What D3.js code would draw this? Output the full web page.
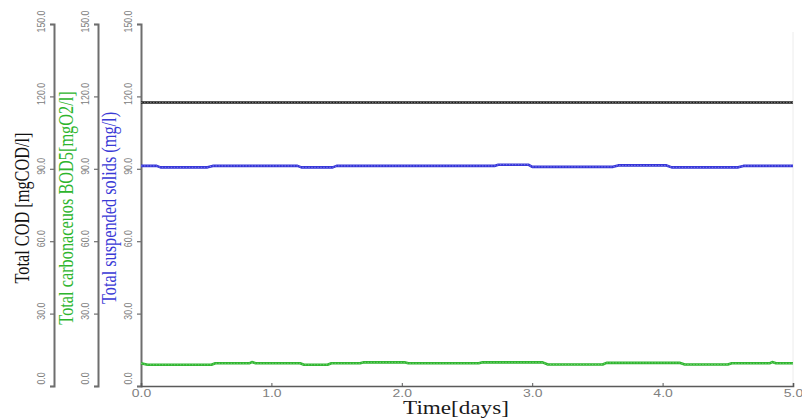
<!DOCTYPE html>
<html>
<head>
<meta charset="utf-8">
<script src="https://cdn.jsdelivr.net/npm/d3@7"></script>
<style>
  html, body { margin: 0; padding: 0; background: #fff; }
  svg { display: block; }
</style>
</head>
<body>
<svg id="chart" width="802" height="420"></svg>
<script>
// ---- data ----
const yTicks = [0, 30, 60, 90, 120, 150];
const xTicks = [0, 1, 2, 3, 4, 5];

const codTime  = [0, 5];
const codValue = [117.5, 117.5];

const tssTime  = [0, 0.12, 0.15, 0.51, 0.55, 1.20, 1.23, 1.47, 1.50, 2.71, 2.74, 2.97, 3.00, 3.62, 3.66, 4.03, 4.07, 4.58, 4.62, 5.00];
const tssValue = [91.2, 91.2, 90.6, 90.6, 91.2, 91.2, 90.6, 90.6, 91.2, 91.2, 91.7, 91.7, 90.8, 90.8, 91.4, 91.4, 90.6, 90.6, 91.2, 91.2];

const bodTime  = [0, 0.05, 0.54, 0.57, 0.83, 0.85, 0.88, 1.22, 1.25, 1.43, 1.46, 1.68, 1.71, 2.02, 2.05, 2.59, 2.62, 3.08, 3.12, 3.54, 3.57, 4.13, 4.17, 4.50, 4.53, 4.82, 4.84, 4.87, 5.00];
const bodValue = [9.4, 8.8, 8.8, 9.4, 9.4, 9.9, 9.4, 9.4, 8.8, 8.8, 9.4, 9.4, 9.8, 9.8, 9.4, 9.4, 9.8, 9.8, 8.9, 8.9, 9.6, 9.6, 8.9, 8.9, 9.4, 9.4, 9.9, 9.4, 9.4];

const axisLabels = ["Total COD [mgCOD/l]", "Total carbonaceuos BOD5[mgO2/l]", "Total suspended solids (mg/l)"];
const axisColors = ["#111111", "#2db52d", "#3a3ad6"];
const xLabel = "Time[days]";

// ---- layout ----
const svg = d3.select("#chart");
const plotLeft = 141, plotRight = 793, plotTop = 24, plotBottom = 386;
const axisXs = [54, 98, 141];

const x = d3.scaleLinear().domain([0, 5]).range([plotLeft, plotRight]);
const y = d3.scaleLinear().domain([0, 150]).range([plotBottom, plotTop]);

// faint right border
svg.append("line")
  .attr("x1", plotRight).attr("x2", plotRight)
  .attr("y1", plotTop + 8).attr("y2", plotBottom)
  .attr("stroke", "#ececec").attr("stroke-width", 1);

// y axes
axisXs.forEach((ax, i) => {
  const g = svg.append("g").attr("transform", `translate(${ax},0)`)
    .call(d3.axisLeft(y).tickValues(yTicks).tickSize(4).tickFormat(d3.format(".1f")));
  g.select(".domain").attr("stroke", "#6e6e6e").attr("stroke-width", 2);
  g.selectAll(".tick line").attr("stroke", "#6e6e6e").attr("stroke-width", 1.2);
  g.selectAll(".tick text").remove();
  g.selectAll(".tick").each(function(d) {
    const ty = Math.min(y(d) - 3, plotBottom - 8) - y(d);
    d3.select(this).append("text")
      .attr("transform", `translate(-9,${ty}) rotate(-90) scale(1,1.3)`)
      .attr("text-anchor", "middle")
      .attr("fill", "#808080")
      .attr("font-family", "Liberation Sans, Arial, sans-serif")
      .attr("font-size", 8.8)
      .text(d3.format(".1f")(d));
  });
  // axis title
  svg.append("text")
    .attr("transform", `translate(${ax - 25},${(plotTop + plotBottom) / 2 + 3}) rotate(-90) scale(1,1.35)`)
    .attr("text-anchor", "middle")
    .attr("fill", axisColors[i])
    .attr("font-family", "Liberation Serif, 'Times New Roman', serif")
    .attr("font-size", 16.3)
    .text(axisLabels[i]);
});

// x axis
const gx = svg.append("g").attr("transform", `translate(0,${plotBottom})`)
  .call(d3.axisBottom(x).tickValues(xTicks).tickSize(-3).tickFormat(d3.format(".1f")));
gx.select(".domain").attr("stroke", "#5a5a5a").attr("stroke-width", 1.6);
gx.selectAll(".tick line").attr("stroke", "#5a5a5a");
gx.selectAll(".tick text")
  .attr("fill", "#808080")
  .attr("font-family", "Liberation Sans, Arial, sans-serif")
  .attr("font-size", 10)
  .attr("y", 0).attr("dy", 0)
  .attr("transform", "translate(0,11) scale(1.4,1)");

svg.append("text")
  .attr("transform", `translate(456,414) scale(1.25,1)`)
  .attr("text-anchor", "middle")
  .attr("fill", "#1a1a1a")
  .attr("font-family", "Liberation Serif, 'Times New Roman', serif")
  .attr("font-size", 18.5)
  .text(xLabel);

// series
const line = d3.line().x(d => x(d[0])).y(d => y(d[1]));
const series = [
  { t: bodTime, v: bodValue, color: "#2fb52f", light: "#7ed67e" },
  { t: tssTime, v: tssValue, color: "#3434d8", light: "#8a8aee" },
  { t: codTime, v: codValue, color: "#1e1e1e", light: "#8c8c8c" }
];
series.forEach(s => {
  const pts = s.t.map((t, i) => [t, s.v[i]]);
  svg.append("path").datum(pts)
    .attr("d", line).attr("fill", "none")
    .attr("stroke", s.color).attr("stroke-width", 2.6)
    .attr("stroke-linejoin", "round");
  svg.append("path").datum(pts)
    .attr("d", line).attr("fill", "none")
    .attr("stroke", s.light).attr("stroke-width", 0.8)
    .attr("stroke-dasharray", "1.5,1.5");
});
</script>
</body>
</html>
